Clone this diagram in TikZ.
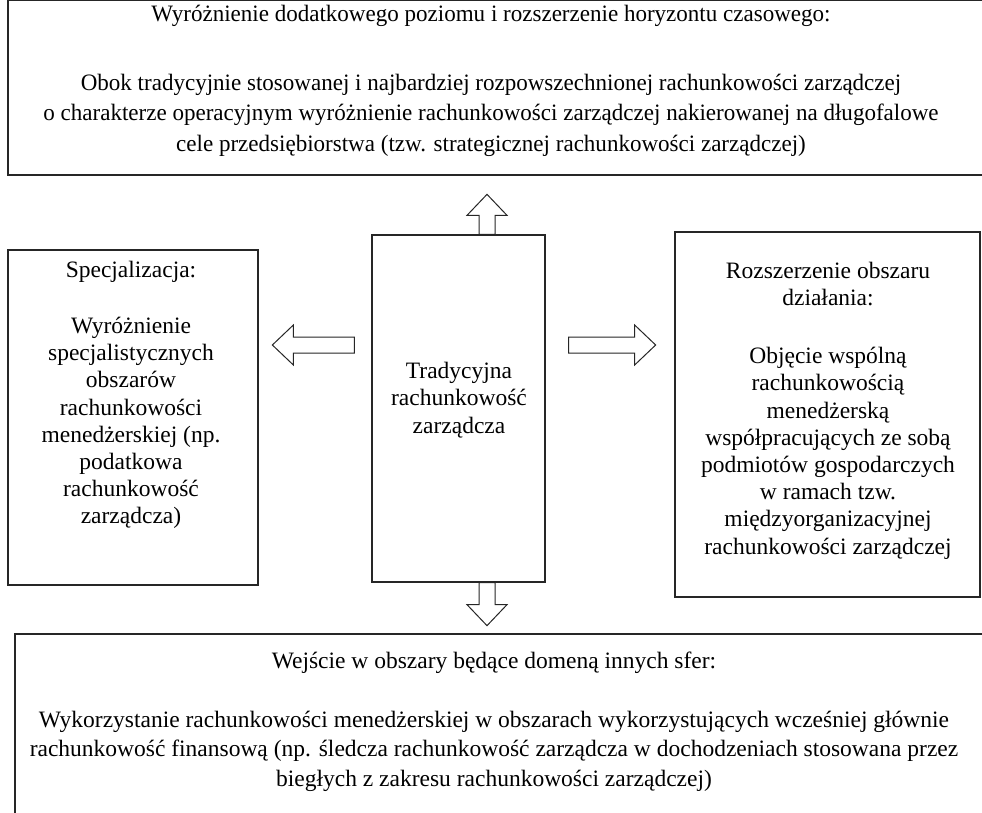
\documentclass[tikz,border=0pt]{standalone}
\usepackage{fontspec}
\setmainfont{Liberation Serif}
\newfontfamily\narrowserif{Liberation Serif}[FakeStretch=0.98]
\usetikzlibrary{positioning}
\tikzset{
    frame/.style={draw=black!85, line width=1.3pt, inner sep=0pt},
    boxtext/.style={align=center, inner sep=0pt, font=\fontsize{23.5}{27.2}\selectfont},
    widetext/.style={boxtext, font=\narrowserif\fontsize{23.5}{30.5}\selectfont},
    pics/fatarrow/.style={code={
        \draw[black!85, line width=1pt, fill=white]
            (0,-8) -- ({#1-21},-8) -- ({#1-21},-20) -- (#1,0)
            -- ({#1-21},20) -- ({#1-21},8) -- (0,8) -- cycle;
    }}
}

\begin{document}
\begin{tikzpicture}[x=1pt, y=-1pt]
    \useasboundingbox (0,0) rectangle (982,813);
    \clip (0,0) rectangle (982,813);

    % frames
    \node[frame, minimum width=992, minimum height=174.5] (poziom) at (504,87.75) {};
    \node[frame, minimum width=250, minimum height=335] (spec) at (133,417.5) {};
    \node[frame, minimum width=173, minimum height=347] (trad) at (458.5,408.5) {};
    \node[frame, minimum width=305, minimum height=365] (obszar) at (827.5,414.5) {};
    \node[frame, minimum width=985, minimum height=266] (sfery) at (507.5,767) {};

    % texts
    \node[widetext] (poziomtxt) at (491,81) {Wyróżnienie dodatkowego poziomu i rozszerzenie horyzontu czasowego:\\[38pt]
        Obok tradycyjnie stosowanej i najbardziej rozpowszechnionej rachunkowości zarządczej\\
        o charakterze operacyjnym wyróżnienie rachunkowości zarządczej nakierowanej na długofalowe\\
        cele przedsiębiorstwa (tzw. strategicznej rachunkowości zarządczej)};
    \node[boxtext] (spectxt) at (131,395) {Specjalizacja:\\[29pt]
        Wyróżnienie\\ specjalistycznych\\ obszarów\\ rachunkowości\\
        menedżerskiej (np.\\ podatkowa\\ rachunkowość\\ zarządcza)};
    \node[boxtext] (tradtxt) at (459,400) {Tradycyjna\\ rachunkowość\\ zarządcza};
    \node[boxtext] (obszartxt) at (828,410.5) {Rozszerzenie obszaru\\ działania:\\[31pt]
        Objęcie wspólną\\ rachunkowością\\ menedżerską\\ współpracujących ze sobą\\
        podmiotów gospodarczych\\ w ramach tzw.\\ międzyorganizacyjnej\\ rachunkowości zarządczej};
    \node[boxtext, font=\fontsize{23.5}{29.5}\selectfont] (sferytxt) at (494,722) {Wejście w obszary będące domeną innych sfer:\\[29pt]
        Wykorzystanie rachunkowości menedżerskiej w obszarach wykorzystujących wcześniej głównie\\
        rachunkowość finansową (np. śledcza rachunkowość zarządcza w dochodzeniach stosowana przez\\
        biegłych z zakresu rachunkowości zarządczej)};

    % arrows out of the centre box
    \pic[rotate=90] at ([shift={(28.5,0)}]trad.north) {fatarrow=40};
    \pic[rotate=-90] at ([shift={(28.5,0)}]trad.south) {fatarrow=43};
    \pic[rotate=180] at ([shift={(-17,-63.5)}]trad.west) {fatarrow=82};
    \pic at ([shift={(23,-63.5)}]trad.east) {fatarrow=87};
\end{tikzpicture}
\end{document}
